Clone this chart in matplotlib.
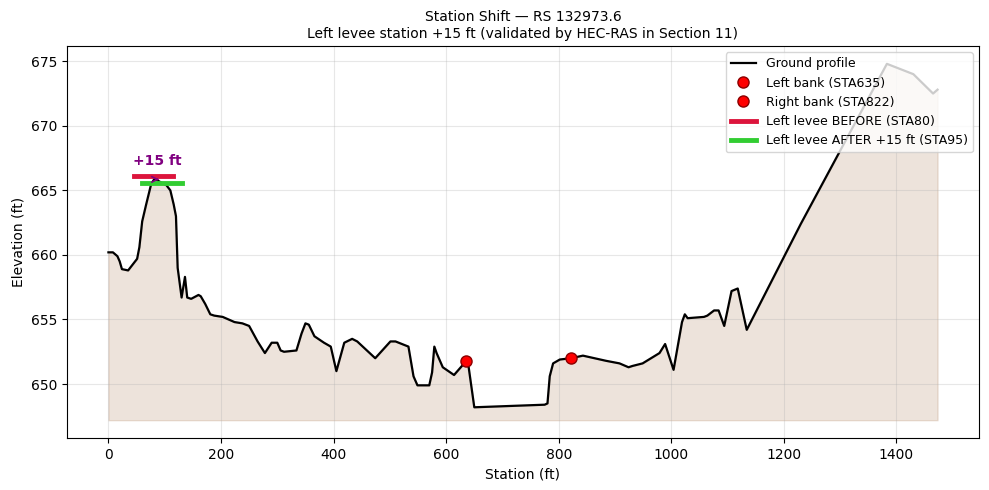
import numpy as np
import matplotlib
matplotlib.use("Agg")
import matplotlib.pyplot as plt

# -----------------------------
# Data
# -----------------------------
station = [0, 8, 16, 20, 24, 35, 51, 55, 60, 67, 76, 82, 94, 103, 110, 116, 120,
           123, 130, 136, 140, 147, 160, 164, 172, 181, 188, 203, 224, 238, 250,
           265, 278, 290, 300, 306, 312, 334, 343, 350, 356, 366, 383, 395, 405,
           419, 433, 442, 474, 501, 510, 533, 542, 549, 570, 575, 579, 583, 594,
           614, 628, 635, 640, 650, 775, 780, 784, 790, 802, 822, 843, 884, 908,
           924, 931, 949, 964, 979, 989, 1004, 1019, 1024, 1029, 1058, 1064, 1076,
           1084, 1094, 1107, 1118, 1134, 1230, 1383, 1430, 1465, 1473]
elevation = [660.2, 660.2, 659.9, 659.5, 658.9, 658.8, 659.7, 660.6, 662.6, 663.9,
             665.5, 665.9, 665.6, 665.4, 665.0, 663.9, 663.0, 659.0, 656.7, 658.3,
             656.7, 656.6, 656.9, 656.8, 656.2, 655.4, 655.3, 655.2, 654.8, 654.7,
             654.5, 653.3, 652.4, 653.2, 653.2, 652.6, 652.5, 652.6, 653.9, 654.7,
             654.6, 653.7, 653.2, 652.9, 651.0, 653.2, 653.5, 653.3, 652.0, 653.3,
             653.3, 652.9, 650.6, 649.9, 649.9, 650.9, 652.9, 652.4, 651.3, 650.7,
             651.4, 651.8, 651.3, 648.2, 648.4, 648.5, 650.6, 651.6, 651.9, 652.0,
             652.2, 651.8, 651.6, 651.3, 651.4, 651.6, 652.0, 652.4, 653.1, 651.1,
             654.8, 655.4, 655.1, 655.2, 655.3, 655.7, 655.7, 654.5, 657.2, 657.4,
             654.2, 662.4, 674.8, 674.0, 672.5, 672.8]

left_bank = (635, 651.8)
right_bank = (822, 652.0)

levee_before_sta = 80
levee_after_sta = 95
levee_before_elev = 666.1
levee_after_elev = 665.6
levee_half_width = 35
shift_ft = 15

# -----------------------------
# Plot
# -----------------------------
fig, ax = plt.subplots(figsize=(9.89, 4.9), dpi=100)

base = min(elevation) - 1
ax.fill_between(station, elevation, base, color="saddlebrown", alpha=0.15)
ax.plot(station, elevation, color="black", lw=1.6, label="Ground profile")

ax.plot(*left_bank, "o", color="red", markeredgecolor="darkred", markersize=8,
        label=f"Left bank (STA{left_bank[0]})")
ax.plot(*right_bank, "o", color="red", markeredgecolor="darkred", markersize=8,
        label=f"Right bank (STA{right_bank[0]})")

ax.plot([levee_before_sta - levee_half_width, levee_before_sta + levee_half_width],
        [levee_before_elev, levee_before_elev], color="crimson", lw=3.5,
        label=f"Left levee BEFORE (STA{levee_before_sta})")
ax.plot([levee_after_sta - levee_half_width, levee_after_sta + levee_half_width],
        [levee_after_elev, levee_after_elev], color="limegreen", lw=3.5,
        label=f"Left levee AFTER +{shift_ft} ft (STA{levee_after_sta})")

# shift arrow + label
ax.annotate("", xy=(levee_after_sta, 665.85), xytext=(levee_before_sta, 665.85),
            arrowprops=dict(arrowstyle="->", color="purple", lw=1.2))
ax.text((levee_before_sta + levee_after_sta) / 2, 666.7, f"+{shift_ft} ft",
        color="purple", fontsize=10, fontweight="bold", ha="center", va="bottom")

ax.set_xlabel("Station (ft)")
ax.set_ylabel("Elevation (ft)")
ax.set_title("Station Shift \u2014 RS 132973.6\n"
             "Left levee station +15 ft (validated by HEC-RAS in Section 11)",
             fontsize=10)
ax.grid(True, alpha=0.3)
ax.legend(loc="upper right", fontsize=9)

fig.subplots_adjust(left=0.0677, right=0.9899, top=0.9061, bottom=0.1061)
fig.savefig("out.png", dpi=100)
